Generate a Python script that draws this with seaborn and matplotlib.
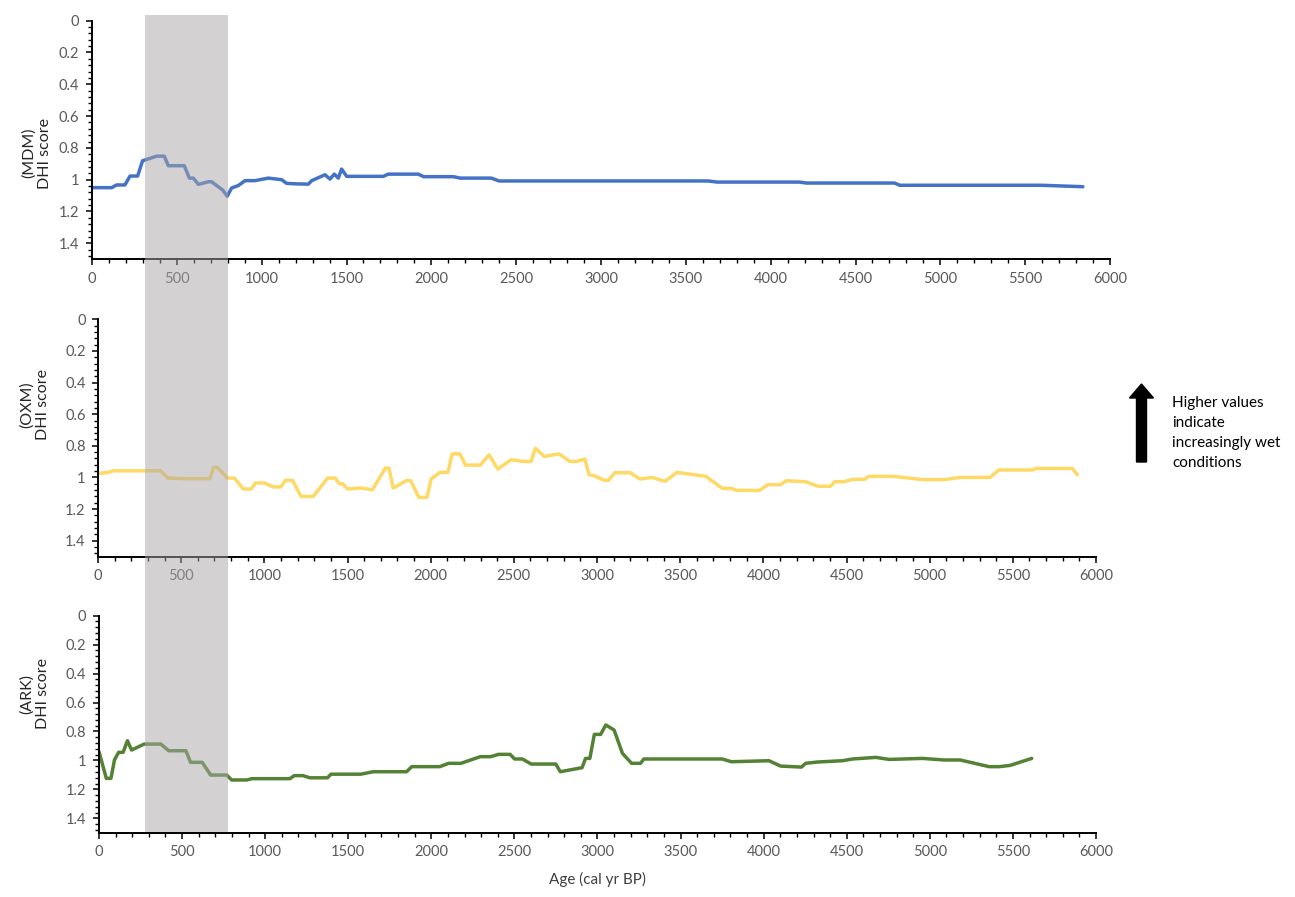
import numpy as np
import pandas as pd
import matplotlib
matplotlib.use("Agg")
import matplotlib.pyplot as plt
import seaborn as sns
from matplotlib.patches import Rectangle, FancyArrow

# ---------------- data ----------------
mdm_age = [0, 116, 145, 194, 224, 269, 298, 381, 426, 450,
           544, 574, 597, 627, 686, 705, 770, 797, 823, 862,
           902, 960, 1039, 1118, 1147, 1200, 1275, 1295, 1373, 1403,
           1428, 1452, 1471, 1501, 1717, 1746, 1923, 1955, 2130, 2170,
           2353, 2400, 3632, 3685, 4168, 4212, 4730, 4761, 5592, 5840]
mdm_dhi = [1.05, 1.05, 1.033, 1.033, 0.977, 0.977, 0.881, 0.852, 0.852, 0.912,
           0.912, 0.99, 0.99, 1.029, 1.013, 1.013, 1.065, 1.104, 1.052, 1.037,
           1.006, 1.006, 0.99, 1.0, 1.023, 1.026, 1.028, 1.006, 0.969, 0.996,
           0.965, 0.99, 0.933, 0.979, 0.979, 0.965, 0.965, 0.981, 0.981, 0.99,
           0.99, 1.008, 1.008, 1.015, 1.015, 1.021, 1.021, 1.035, 1.035, 1.044]

oxm_age = [0, 60, 92, 377, 419, 525, 673, 694, 719, 778,
           820, 873, 921, 947, 1000, 1053, 1099, 1127, 1169, 1221,
           1295, 1380, 1426, 1450, 1471, 1500, 1580, 1650, 1728, 1749,
           1775, 1855, 1880, 1929, 1978, 2003, 2055, 2104, 2129, 2176,
           2209, 2298, 2351, 2404, 2484, 2555, 2604, 2629, 2682, 2773,
           2836, 2878, 2927, 2952, 2983, 3043, 3069, 3108, 3201, 3256,
           3332, 3408, 3481, 3654, 3753, 3809, 3839, 3977, 4027, 4103,
           4138, 4253, 4329, 4403, 4430, 4483, 4541, 4610, 4633, 4783,
           4956, 5087, 5182, 5363, 5416, 5616, 5639, 5858, 5888]
oxm_dhi = [0.975, 0.968, 0.958, 0.958, 1.004, 1.008, 1.008, 0.937, 0.937, 1.004,
           1.004, 1.073, 1.073, 1.035, 1.035, 1.06, 1.06, 1.018, 1.018, 1.12,
           1.12, 1.004, 1.004, 1.04, 1.04, 1.073, 1.067, 1.078, 0.941, 0.941,
           1.067, 1.02, 1.02, 1.126, 1.126, 1.01, 0.968, 0.968, 0.851, 0.851,
           0.922, 0.922, 0.857, 0.947, 0.888, 0.899, 0.899, 0.815, 0.867, 0.851,
           0.899, 0.899, 0.884, 0.983, 0.989, 1.018, 1.018, 0.97, 0.97, 1.01,
           1.0, 1.025, 0.968, 0.993, 1.069, 1.069, 1.082, 1.082, 1.046, 1.046,
           1.021, 1.027, 1.056, 1.056, 1.027, 1.027, 1.012, 1.012, 0.993, 0.993,
           1.014, 1.014, 1.0, 1.0, 0.953, 0.953, 0.943, 0.943, 0.983]

ark_age = [0, 44, 72, 93, 118, 145, 171, 196, 272, 372,
           420, 523, 551, 621, 672, 769, 798, 889, 921, 1149,
           1175, 1227, 1269, 1375, 1396, 1576, 1650, 1851, 1882, 2051,
           2104, 2178, 2295, 2358, 2404, 2474, 2501, 2548, 2601, 2749,
           2776, 2907, 2928, 2954, 2981, 3019, 3050, 3100, 3150, 3205,
           3259, 3279, 3751, 3805, 4032, 4102, 4227, 4253, 4323, 4474,
           4534, 4675, 4755, 4956, 5086, 5183, 5357, 5418, 5484, 5613]
ark_dhi = [0.94, 1.124, 1.124, 0.997, 0.944, 0.944, 0.864, 0.928, 0.887, 0.887,
           0.933, 0.933, 1.013, 1.013, 1.101, 1.101, 1.135, 1.135, 1.126, 1.126,
           1.105, 1.105, 1.12, 1.12, 1.095, 1.095, 1.078, 1.078, 1.043, 1.043,
           1.02, 1.02, 0.974, 0.974, 0.958, 0.958, 0.99, 0.99, 1.025, 1.025,
           1.078, 1.05, 0.986, 0.986, 0.82, 0.82, 0.755, 0.79, 0.951, 1.02,
           1.02, 0.99, 0.99, 1.009, 1.002, 1.039, 1.046, 1.02, 1.011, 1.002,
           0.99, 0.979, 0.993, 0.986, 0.997, 0.997, 1.043, 1.043, 1.034, 0.986]

site_labels = ["(MDM)\nDHI score", "(OXM)\nDHI score", "(ARK)\nDHI score"]
y_tick_values = [0, 0.2, 0.4, 0.6, 0.8, 1, 1.2, 1.4]
y_tick_labels = ["0", "0.2", "0.4", "0.6", "0.8", "1", "1.2", "1.4"]
x_tick_values = list(range(0, 6001, 500))
x_tick_labels = [str(v) for v in x_tick_values]
band_age = [310, 800]
x_title = "Age (cal yr BP)"
note_text = "Higher values\nindicate\nincreasingly wet\nconditions"

# ---------------- style ----------------
sns.set_theme(style="ticks")
plt.rcParams["font.family"] = ["Lato", "DejaVu Sans"]

W, H = 1295, 897
fig = plt.figure(figsize=(W / 100, H / 100), dpi=100)
fig.patch.set_facecolor("white")


def px_axes(left, right, top, bottom):
    return fig.add_axes([left / W, 1 - bottom / H, (right - left) / W, (bottom - top) / H])


layout = [(92, 1110, 20.7, 259.2), (98, 1096, 319.3, 556.5), (99, 1096, 615.7, 832.8)]
label_pos = [(-0.039, 0.445), (-0.048, 0.64), (-0.049, 0.64)]
series = [(mdm_age, mdm_dhi, "#4472C4"), (oxm_age, oxm_dhi, "#FFD966"), (ark_age, ark_dhi, "#548235")]

axes = []
for (l, r, t, b), (ages, vals, col), lab, lp in zip(layout, series, site_labels, label_pos):
    ax = px_axes(l, r, t, b)
    df = pd.DataFrame({"age": ages, "dhi": vals})
    sns.lineplot(data=df, x="age", y="dhi", ax=ax, color=col, linewidth=2.5,
                 estimator=None, sort=False)
    ax.set_facecolor("none")
    ax.set_xlim(0, 6000)
    ax.set_ylim(1.5, 0)
    ax.set_yticks(y_tick_values)
    ax.set_yticklabels(y_tick_labels)
    ax.set_yticks(np.arange(0, 1.5, 0.04), minor=True)
    ax.set_xticks(x_tick_values)
    ax.set_xticklabels(x_tick_labels)
    ax.set_xticks(np.arange(0, 6001, 100), minor=True)
    for s in ["top", "right"]:
        ax.spines[s].set_visible(False)
    for s in ["left", "bottom"]:
        ax.spines[s].set_color("black")
        ax.spines[s].set_linewidth(1.4)
    ax.tick_params(axis="both", which="major", direction="out", length=4, width=1.1,
                   color="black", labelsize=10.5, labelcolor="#595959", pad=5)
    ax.tick_params(axis="both", which="minor", direction="out", length=3, width=1.0,
                   color="black")
    ax.set_xlabel("")
    ax.set_ylabel(lab, fontsize=11.5, color="#262626", linespacing=1.2)
    ax.yaxis.set_label_coords(lp[0], lp[1])
    axes.append(ax)

axes[2].set_xlabel(x_title, fontsize=11, color="#404040", labelpad=9)

# shaded interval spanning all panels (positioned by panel 1 age scale)
x0 = axes[0].transData.transform((band_age[0], 0))[0]
x1 = axes[0].transData.transform((band_age[1], 0))[0]
fig_w_px = fig.bbox.width
band = Rectangle((x0 / fig_w_px, 1 - 832 / H), (x1 - x0) / fig_w_px, (832 - 15) / H,
                 transform=fig.transFigure, facecolor="#a8a5a7", edgecolor="none",
                 alpha=0.5, zorder=10)
fig.patches.append(band)

# arrow + note
arrow = FancyArrow(1141.5 / W, 1 - 462 / H, 0, (462 - 384) / H,
                   width=10 / W, head_width=24 / W, head_length=14 / H,
                   length_includes_head=True, color="black",
                   transform=fig.transFigure, zorder=11)
fig.patches.append(arrow)
fig.text(1172 / W, 1 - 396 / H, note_text, ha="left", va="top", fontsize=11,
         color="black", linespacing=1.55)

fig.savefig("out.png", dpi=100, facecolor="white")
